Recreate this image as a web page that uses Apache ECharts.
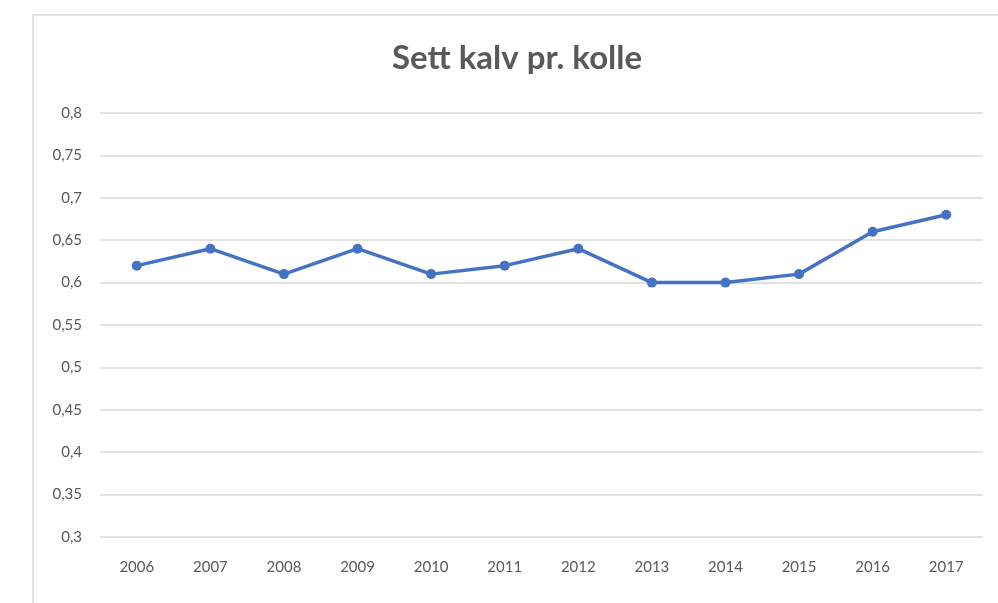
<!DOCTYPE html>
<html>
<head>
<meta charset="utf-8">
<script src="https://cdn.jsdelivr.net/npm/echarts@6/dist/echarts.min.js"></script>
<style>
html, body { margin: 0; padding: 0; background: #fff; }
#chart { width: 998px; height: 603px; }
</style>
</head>
<body>
<div id="chart"></div>
<script>
var years = ['2006', '2007', '2008', '2009', '2010', '2011', '2012', '2013', '2014', '2015', '2016', '2017'];
var kalvPrKolle = [0.62, 0.64, 0.61, 0.64, 0.61, 0.62, 0.64, 0.60, 0.60, 0.61, 0.66, 0.68];
var yMin = 0.3;
var yMax = 0.8;
var yStep = 0.05;

var chart = echarts.init(document.getElementById('chart'));

var option = {
  backgroundColor: '#fff',
  animation: false,
  title: {
    text: 'Sett kalv pr. kolle',
    left: 387,
    top: 37,
    textStyle: {
      fontFamily: 'Lato',
      fontSize: 33,
      fontWeight: 'bold',
      color: '#595959'
    }
  },
  graphic: [{
    type: 'rect',
    shape: { x: 33, y: 15, width: 980, height: 600 },
    style: { fill: 'none', stroke: '#d9d9d9', lineWidth: 1.5 },
    silent: true
  }],
  grid: {
    left: 100,
    right: 15,
    top: 113,
    bottom: 66
  },
  xAxis: {
    type: 'category',
    data: years,
    boundaryGap: true,
    axisLine: { show: false },
    axisTick: { show: false },
    axisLabel: {
      margin: 23,
      fontFamily: 'Lato',
      fontSize: 15,
      color: '#595959'
    }
  },
  yAxis: {
    type: 'value',
    min: yMin,
    max: yMax,
    interval: yStep,
    axisLine: { show: false },
    axisTick: { show: false },
    splitLine: { lineStyle: { color: '#d9d9d9', width: 1.5 } },
    axisLabel: {
      margin: 18,
      fontFamily: 'Lato',
      fontSize: 15,
      color: '#595959',
      formatter: function (v) {
        return String(Math.round(v * 100) / 100).replace('.', ',');
      }
    }
  },
  series: [{
    type: 'line',
    data: kalvPrKolle,
    symbol: 'circle',
    symbolSize: 10,
    lineStyle: { color: '#4472C4', width: 3.5 },
    itemStyle: { color: '#4472C4' }
  }]
};

chart.setOption(option);
</script>
</body>
</html>
